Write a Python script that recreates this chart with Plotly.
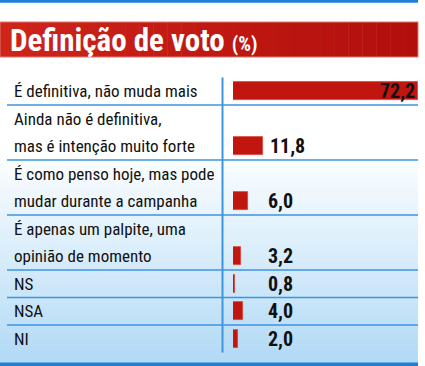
import plotly.graph_objects as go

# ---- data ----
categories = [
    "É definitiva, não muda mais",
    "Ainda não é definitiva,\nmas é intenção muito forte",
    "É como penso hoje, mas pode\nmudar durante a campanha",
    "É apenas um palpite, uma\nopinião de momento",
    "NS",
    "NSA",
    "NI",
]
values = [72.2, 11.8, 6.0, 3.2, 0.8, 4.0, 2.0]
value_labels = ["72,2", "11,8", "6,0", "3,2", "0,8", "4,0", "2,0"]
title_main = "Definição de voto"
title_unit = "(%)"

# ---- layout constants (pixels) ----
W, H = 425, 366
TOP = 77.5      # top of first row
LINE = 27.5     # height of one text line
X0, X1 = 233, 418   # bar axis pixel extent

FONT = "Roboto Condensed, Roboto, sans-serif"
RED = "#c1160f"
BLUE = "#3d95de"

def px(x):
    return x / W

def py(y):
    return 1 - y / H

y_top = (0 - TOP) / LINE - 0.5
y_bot = (H - TOP) / LINE - 0.5

label_lines = []
bar_y = []
row_bounds = []
k = 0
for c in categories:
    lines = c.split("\n")
    for ln in lines:
        label_lines.append((ln, k))
        k += 1
    bar_y.append(k - 1)
    row_bounds.append(k - 0.5)

fig = go.Figure()
fig.add_trace(go.Bar(
    x=values, y=bar_y, orientation="h",
    marker=dict(color=RED, line=dict(color="#d9463a", width=0.8)),
    width=0.64, hoverinfo="skip",
))

shapes = []
# background gradient
n = 40
g0, g1 = 150, 360
c0 = (255, 255, 255)
c1 = (178, 218, 246)
for i in range(n):
    ya = g0 + (g1 - g0) * i / n
    yb = g0 + (g1 - g0) * (i + 1) / n + 0.5
    t = (i + 0.5) / n
    col = tuple(round(c0[j] + (c1[j] - c0[j]) * t) for j in range(3))
    shapes.append(dict(type="rect", xref="paper", yref="paper", x0=0, x1=px(418),
                       y0=py(yb), y1=py(ya), fillcolor="rgb(%d,%d,%d)" % col,
                       line=dict(width=0), layer="below"))
shapes.append(dict(type="rect", xref="paper", yref="paper", x0=0, x1=px(418),
                   y0=py(363), y1=py(360), fillcolor="rgb(178,218,246)",
                   line=dict(width=0), layer="below"))
# bottom blue bar
shapes.append(dict(type="rect", xref="paper", yref="paper", x0=0, x1=px(418),
                   y0=py(366), y1=py(362.5), fillcolor="#1f7fd6", line=dict(width=0)))
# top blue line
shapes.append(dict(type="rect", xref="paper", yref="paper", x0=0, x1=px(418),
                   y0=py(2.8), y1=py(0), fillcolor="#1f7fd6", line=dict(width=0)))
# title band gradient
nb = 30
r0 = (206, 36, 26)
r1 = (178, 14, 12)
for i in range(nb):
    xa = 418 * i / nb
    xb = 418 * (i + 1) / nb + 0.5
    t = (i + 0.5) / nb
    col = tuple(round(r0[j] + (r1[j] - r0[j]) * t) for j in range(3))
    shapes.append(dict(type="rect", xref="paper", yref="paper", x0=px(xa), x1=px(min(xb, 418)),
                       y0=py(57), y1=py(22), fillcolor="rgb(%d,%d,%d)" % col,
                       line=dict(width=0)))
shapes.append(dict(type="rect", xref="paper", yref="paper", x0=0, x1=px(418),
                   y0=py(57), y1=py(22), fillcolor="rgba(0,0,0,0)",
                   line=dict(color="#e07a6e", width=1)))
# row separators
for b in row_bounds[:-1]:
    shapes.append(dict(type="line", xref="paper", yref="y", x0=px(7), x1=px(418),
                       y0=b, y1=b, line=dict(color=BLUE, width=1.6)))
# vertical divider
shapes.append(dict(type="line", xref="paper", yref="y", x0=px(222.5), x1=px(222.5),
                   y0=-0.5, y1=row_bounds[-1], line=dict(color=BLUE, width=2)))

annotations = []
for ln, kk in label_lines:
    annotations.append(dict(x=px(12), xref="paper", y=kk, yref="y", text=ln,
                            xanchor="left", yanchor="middle", showarrow=False,
                            font=dict(family=FONT, size=17, color="#111111")))
vmax = max(values)
for v, lab, yy in zip(values, value_labels, bar_y):
    if v == vmax:
        annotations.append(dict(x=v - 0.4, xref="x", y=yy, yref="y", text="<b>%s</b>" % lab,
                                xanchor="right", yanchor="middle", showarrow=False,
                                font=dict(family=FONT, size=20, color="#111111")))
    else:
        annotations.append(dict(x=max(v + 2.0, 12.9), xref="x", y=yy, yref="y",
                                text="<b>%s</b>" % lab, xanchor="left", yanchor="middle",
                                showarrow=False,
                                font=dict(family=FONT, size=20, color="#111111")))
# title
annotations.append(dict(x=px(8), xref="paper", y=py(40), yref="paper",
                        text="<b>%s</b> <b><span style='font-size:20px'>%s</span></b>" % (title_main, title_unit),
                        xanchor="left", yanchor="middle", showarrow=False,
                        font=dict(family=FONT, size=31, color="white")))

fig.update_layout(
    width=W, height=H,
    margin=dict(l=0, r=0, t=0, b=0),
    paper_bgcolor="white", plot_bgcolor="rgba(0,0,0,0)",
    showlegend=False,
    xaxis=dict(domain=[px(X0), px(X1)], range=[0, vmax], visible=False, fixedrange=True),
    yaxis=dict(domain=[0, 1], range=[y_bot, y_top], visible=False, fixedrange=True),
    shapes=shapes, annotations=annotations,
    bargap=0,
)
fig.write_html("out.html", config={"displayModeBar": False},
               post_script="document.body.style.margin='0';")
